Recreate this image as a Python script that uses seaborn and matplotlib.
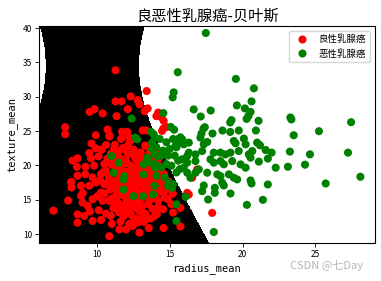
import numpy as np
import pandas as pd
import matplotlib
matplotlib.use("Agg")
import matplotlib.pyplot as plt
from matplotlib.colors import ListedColormap
import seaborn as sns

# ---- data (radius_mean, texture_mean) ----
benign_radius = [
    11.26, 13.40, 12.30, 11.26, 11.68, 12.78, 12.90, 12.10, 13.47, 13.26, 9.81, 9.47, 10.37, 11.33,
    7.79, 7.79, 10.71, 12.05, 11.70, 10.83, 13.12, 13.36, 14.19, 14.07, 14.41, 14.57, 14.55, 14.76, 14.46,
    8.30, 8.64, 9.45, 9.57, 10.09, 9.79, 10.48, 10.83, 8.64, 9.17, 9.68, 10.26, 8.23, 8.88, 9.45, 9.91,
    10.48, 8.88, 8.99, 9.33, 9.68, 10.26, 10.37, 10.83, 6.98, 8.64, 9.10, 8.64, 9.68, 10.26, 10.94,
    10.83, 11.52, 11.98, 12.43, 12.90, 10.83, 11.63, 12.09, 12.43, 10.60, 11.17, 10.94,
    13.54, 14.57, 15.72, 15.72, 16.30, 16.19, 16.53, 16.88, 17.91,
    13.84, 14.19, 14.07, 14.30, 13.95, 14.30, 14.53, 14.64, 14.19, 14.87, 15.10, 14.53, 15.22, 13.95,
    10.6, 10.8, 10.9, 11.0, 11.1, 11.2, 11.3, 11.3, 11.4, 11.4, 11.5, 11.5, 11.6, 11.6, 11.7, 11.7,
    11.8, 11.8, 11.9, 11.9, 12.0, 12.0, 12.0, 12.1, 12.1, 12.2, 12.2, 12.2, 12.3, 12.3, 12.4, 12.4,
    12.4, 12.5, 12.5, 12.6, 12.6, 12.6, 12.7, 12.7, 12.8, 12.8, 12.8, 12.9, 12.9, 13.0, 13.0, 13.0,
    13.1, 13.1, 13.2, 13.2, 13.3, 13.3, 13.4, 13.4, 13.5, 13.5, 13.6, 13.6, 13.7, 13.7, 13.8, 13.9,
    13.9, 14.0, 14.0, 14.1, 14.2, 14.2, 14.4, 14.4, 14.6, 14.8, 14.9, 15.2,
    11.0, 11.2, 10.7, 10.5, 10.4, 10.2, 10.1, 10.6, 10.3, 11.0, 11.6, 12.2, 12.8, 13.2, 13.7, 14.1,
    9.9, 9.6, 9.2, 9.0, 9.5, 10.0, 8.2, 8.0, 8.6, 9.9,
    11.1, 11.5, 11.9, 12.3, 12.7, 13.1, 13.5, 11.3, 11.7, 12.1, 12.5, 12.9, 13.3, 13.7, 11.2, 11.6,
    12.0, 12.4, 12.8, 13.2, 13.6, 12.0, 12.6, 13.2, 11.4, 12.2, 13.0, 13.8, 12.5, 11.8, 13.4, 12.7,
    10.9, 11.3, 11.7, 12.1, 12.5, 12.9, 13.3, 13.7, 14.1, 10.8, 11.2, 11.6, 12.0, 12.4, 12.8, 13.2,
    13.6, 14.0, 14.3, 11.0, 11.4, 11.8, 12.2, 12.6, 13.0, 13.4, 13.8, 12.3, 12.7, 13.1, 11.9, 12.5,
    13.5, 14.2, 11.5, 12.1, 12.9, 13.6, 10.7, 14.5,
]
benign_texture = [
    33.86, 30.83, 30.06, 29.33, 29.33, 29.52, 28.89, 28.20, 28.30, 27.90, 28.20, 27.80, 27.57, 27.18,
    25.57, 24.55, 25.23, 24.90, 24.90, 24.40, 25.10, 25.10, 27.70, 27.18, 27.03, 26.50, 25.38, 25.60, 25.03,
    20.70, 21.04, 21.81, 21.04, 21.33, 19.97, 20.20, 20.45, 18.51, 18.74, 18.26, 18.74, 16.80, 17.05, 17.05, 17.53,
    17.28, 15.59, 14.60, 14.12, 15.09, 16.07, 14.85, 14.85, 13.43, 12.89, 12.66, 11.68, 11.93, 12.08, 12.66,
    9.71, 10.70, 10.70, 11.20, 10.22, 24.21, 23.86, 24.36, 23.86, 22.98, 22.40, 21.67,
    10.90, 10.90, 11.14, 13.83, 15.77, 16.02, 18.22, 19.43, 13.10,
    20.70, 20.94, 19.47, 18.51, 17.78, 17.05, 16.07, 15.34, 14.85, 15.09, 14.36, 13.63, 13.15, 12.66,
    19.2, 18.1, 16.5, 15.2, 13.8, 20.9, 19.6, 17.4, 16.1, 14.6, 13.2, 22.1, 21.0, 18.9, 17.8, 15.7,
    14.2, 12.6, 20.3, 19.1, 16.9, 15.1, 13.5, 22.8, 21.6, 18.4, 17.2, 14.6, 12.9, 20.0, 19.0, 16.3,
    15.5, 13.9, 22.3, 21.1, 17.7, 16.8, 14.9, 12.3, 20.6, 19.5, 18.6, 16.0, 13.4, 21.9, 17.3, 15.2,
    14.1, 19.8, 18.1, 16.6, 20.9, 13.0, 15.8, 17.9, 19.2, 14.4, 22.6, 16.9, 18.6, 15.1, 13.7, 19.9,
    16.4, 22.1, 15.6, 18.0, 16.7, 13.9, 19.2, 17.4, 18.7, 16.5, 17.7, 15.9,
    21.8, 23.0, 21.0, 15.9, 19.0, 17.9, 13.5, 13.0, 22.3, 11.5, 11.8, 11.5, 11.7, 11.8, 12.3, 12.9,
    22.5, 23.2, 19.8, 16.0, 13.3, 15.5, 17.6, 14.9, 19.8, 24.4,
    17.0, 18.3, 15.9, 17.6, 18.2, 16.2, 17.0, 15.6, 16.7, 14.0, 19.6, 15.8, 18.9, 17.5, 14.3, 19.9,
    18.0, 16.9, 14.4, 15.4, 18.3, 20.6, 21.4, 18.7, 17.1, 16.2, 17.8, 16.0, 19.7, 22.6, 20.1, 21.5,
    16.8, 15.0, 14.0, 13.1, 12.0, 21.2, 22.9, 20.4, 19.4, 18.6, 17.7, 16.3, 15.3, 14.4, 13.6, 12.5,
    21.8, 18.3, 19.9, 20.1, 21.3, 22.4, 23.4, 14.8, 13.3, 12.2, 16.6, 19.3, 18.8, 17.3, 15.7, 17.9,
    16.1, 16.2, 20.0, 14.0, 13.8, 19.2, 17.5, 22.0,
]

malignant_radius = [
    17.47, 15.54, 19.54, 20.78, 15.26, 15.19, 20.62, 19.61, 16.64, 17.81, 20.16, 20.55, 17.12, 20.41, 20.28,
    21.10, 19.24, 19.15, 14.55, 17.40, 17.31, 18.62, 19.15, 19.74, 20.92, 17.93, 17.17, 15.06, 15.29,
    23.29, 23.36, 27.47, 25.26, 23.52, 12.37, 13.70, 13.88,
    17.10, 15.84, 16.30, 15.95, 17.57, 17.33, 19.40, 19.52, 20.09, 20.21, 21.00, 21.20, 21.59, 22.00,
    23.26, 24.64, 27.26, 16.30, 16.76, 17.22, 18.02, 18.48, 18.83, 19.17, 19.74, 20.67, 20.43, 20.55,
    16.19, 15.84, 16.19, 16.76, 17.79, 18.02, 18.48, 18.71, 19.29, 19.86, 20.21, 21.12, 21.74, 22.28,
    23.12, 24.30, 25.72, 28.11, 15.95, 16.19, 16.41, 16.76, 16.99, 17.57, 18.26, 18.48, 19.06, 19.40,
    19.63, 20.55, 20.62, 21.74, 17.22, 17.33, 18.09, 18.09, 18.60, 18.71, 17.63, 19.17, 20.30, 21.40,
    18.02, 16.07,
    13.95, 14.30, 14.76, 15.22, 15.57, 14.07, 14.53, 14.99, 15.45, 13.95, 14.41, 14.87, 15.33, 14.76,
    15.10, 15.57, 15.45, 15.68, 13.95, 14.41, 14.07, 14.64, 14.87, 15.22, 13.95, 15.45, 15.45,
    10.97, 11.47, 11.13, 11.86, 11.81, 11.81, 12.50, 13.15, 13.19, 13.84, 12.62, 12.74, 13.77, 13.77,
    13.43, 14.12, 13.19, 14.00, 14.92, 15.15, 13.59, 15.72, 15.50, 15.38,
]
malignant_texture = [
    39.28, 33.57, 32.60, 31.23, 30.64, 29.91, 29.33, 28.74, 28.16, 28.00, 28.30, 27.80, 27.13, 27.22, 26.78,
    26.50, 26.60, 26.26, 27.62, 25.57, 25.38, 25.09, 24.88, 25.09, 25.09, 24.65, 24.65, 25.60, 25.20,
    26.99, 26.70, 26.30, 24.99, 24.40, 26.84, 24.90, 24.55,
    24.06, 23.82, 23.33, 23.08, 23.42, 23.08, 23.57, 23.23, 23.92, 23.08, 23.33, 22.94, 22.25, 21.87,
    22.02, 21.62, 21.87, 21.87, 21.62, 22.10, 21.87, 21.87, 21.62, 21.87, 22.10, 22.10, 21.62, 21.14,
    21.38, 20.90, 20.41, 20.64, 20.90, 20.41, 20.64, 20.16, 20.64, 20.16, 19.68, 20.56, 21.00, 19.68,
    19.82, 20.12, 17.38, 18.36, 19.68, 18.95, 18.22, 18.95, 19.43, 18.95, 18.71, 18.45, 18.71, 18.22,
    17.97, 17.82, 17.38, 17.24, 16.26, 17.09, 16.75, 16.02, 17.49, 17.09, 15.04, 15.92, 14.27, 15.00,
    10.32, 15.44,
    24.11, 23.86, 23.38, 23.86, 23.86, 22.65, 22.16, 22.40, 22.65, 21.67, 21.43, 21.43, 21.43, 20.20,
    19.97, 20.70, 18.99, 19.47, 19.72, 19.72, 18.51, 18.26, 17.05, 17.28, 17.05, 14.36, 11.93,
    21.37, 20.40, 18.95, 18.45, 17.97, 16.50, 15.53, 15.53, 18.70, 15.77, 24.06, 23.82, 23.33, 22.35,
    21.14, 21.37, 20.16, 20.16, 17.49, 16.75, 20.45, 24.10, 23.33, 22.84,
]

class_names = ["良性乳腺癌", "恶性乳腺癌"]
x_label = "radius_mean"
y_label = "texture_mean"
title = "良恶性乳腺癌-贝叶斯"

# Gaussian naive Bayes parameters (per class: means, variances, prior),
# estimated so that the decision regions match the picture
benign_theta = [12.15, 17.91]
benign_var = [3.16, 16.2]
malignant_theta = [17.46, 21.60]
malignant_var = [9.9, 12.6]
class_priors = [0.6135, 0.3865]

# ---- table ----
df = pd.DataFrame({
    x_label: benign_radius + malignant_radius,
    y_label: benign_texture + malignant_texture,
    "label": [class_names[0]] * len(benign_radius) + [class_names[1]] * len(malignant_radius),
})

X = df[[x_label, y_label]].to_numpy()
x_min, x_max = X[:, 0].min() - 1, X[:, 0].max() + 1
y_min, y_max = X[:, 1].min() - 1, X[:, 1].max() + 1
gx = np.arange(x_min, x_max, 0.02)
gy = np.arange(y_min, y_max, 0.02)
xx, yy = np.meshgrid(gx, gy)
grid = np.c_[xx.ravel(), yy.ravel()]
logp = []
for mu, var, pr in ((benign_theta, benign_var, class_priors[0]),
                    (malignant_theta, malignant_var, class_priors[1])):
    mu = np.asarray(mu)
    var = np.asarray(var)
    logp.append(np.log(pr) - 0.5 * np.sum(np.log(2 * np.pi * var))
                - 0.5 * np.sum((grid - mu) ** 2 / var, axis=1))
Z = np.argmax(np.vstack(logp), axis=0).reshape(xx.shape)

# ---- figure ----
cjk = ["Noto Sans CJK SC", "DejaVu Sans"]
fig = plt.figure(figsize=(3.81, 2.81), dpi=100)
ax = fig.add_axes([0.102, 0.135, 0.882, 0.772])
ax.pcolormesh(xx, yy, Z, cmap=ListedColormap(["black", "white"]), shading="auto", rasterized=True)

sns.scatterplot(data=df, x=x_label, y=y_label, hue="label", hue_order=class_names,
                palette=["red", "green"], s=34, linewidth=0, ax=ax)

ax.set_xlim(x_min, x_max)
ax.set_ylim(y_min, y_max)
ax.set_xticks([10, 15, 20, 25])
ax.set_yticks([10, 15, 20, 25, 30, 35, 40])
ax.tick_params(labelsize=6, length=3, width=0.6, pad=2)
for lab in ax.get_xticklabels() + ax.get_yticklabels():
    lab.set_family(cjk)
for s in ax.spines.values():
    s.set_linewidth(0.8)

ax.set_xlabel(x_label, family="DejaVu Sans Mono", fontsize=7.5, labelpad=3)
ax.set_ylabel(y_label, family="DejaVu Sans Mono", fontsize=7.5, labelpad=3)
ax.set_title(title, family=cjk, fontsize=11, pad=4)

handles, labels = ax.get_legend_handles_labels()
ax.legend(handles, labels, loc="upper right", prop={"family": cjk, "size": 6.8},
          framealpha=0.8)

fig.text(0.76, 0.055, "CSDN @七Day", family=cjk, fontsize=8, color="#b4b4b4", va="center")

fig.savefig("out.png", dpi=100)
